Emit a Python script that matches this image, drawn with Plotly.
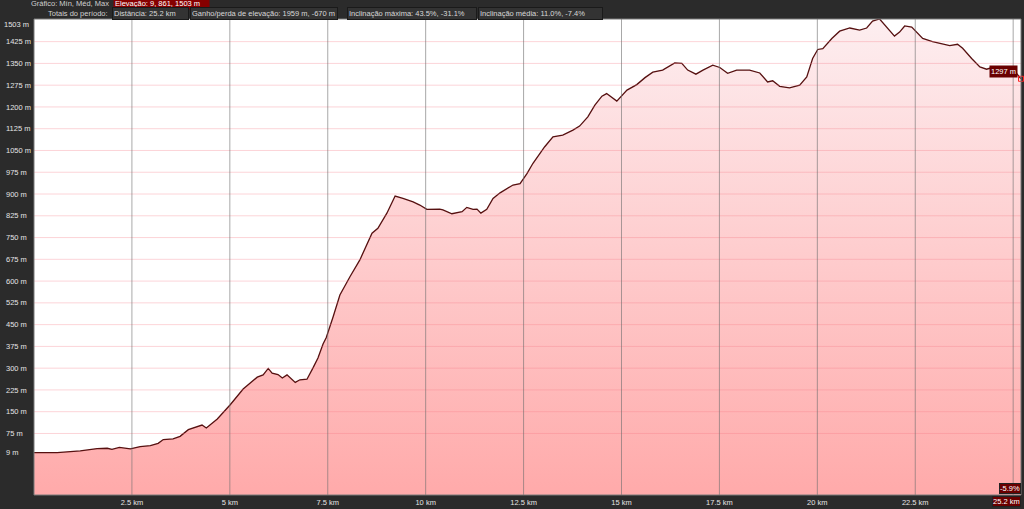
import plotly.graph_objects as go

# ---------------- data ----------------
dist_km = [0, 0.42, 0.59, 1.18, 1.61, 1.87, 1.99, 2.18, 2.38, 2.46, 2.71, 2.97, 3.17, 3.30,
           3.55, 3.73, 3.94, 4.17, 4.29, 4.40, 4.68, 5.01, 5.34, 5.70, 5.85, 5.98, 6.08, 6.23,
           6.34, 6.46, 6.67, 6.79, 6.97, 7.12, 7.25, 7.38, 7.46, 7.64, 7.81, 8.07, 8.32, 8.63,
           8.78, 9.01, 9.22, 9.42, 9.68, 9.85, 10.03, 10.36, 10.44, 10.67, 10.93, 11.05, 11.21,
           11.31, 11.41, 11.56, 11.72, 11.90, 12.23, 12.41, 12.59, 12.74, 13.04, 13.25, 13.50,
           13.76, 13.93, 14.14, 14.32, 14.50, 14.62, 14.88, 15.14, 15.39, 15.60, 15.80, 16.05,
           16.36, 16.54, 16.69, 16.90, 17.08, 17.33, 17.51, 17.71, 17.94, 18.27, 18.53, 18.73,
           18.86, 19.04, 19.29, 19.55, 19.73, 19.88, 20.01, 20.14, 20.37, 20.57, 20.83, 21.08,
           21.26, 21.41, 21.59, 21.77, 21.97, 22.10, 22.23, 22.41, 22.53, 22.69, 22.94, 23.20,
           23.38, 23.58, 23.71, 23.94, 24.15, 24.32, 24.45, 24.73, 24.91, 25.06, 25.2]
elev_m = [9, 9, 9, 15, 23, 24, 20, 27, 22, 22, 30, 33, 41, 54,
          56, 65, 88, 97, 104, 94, 125, 174, 228, 269, 277, 299, 283, 278,
          266, 277, 251, 260, 262, 300, 335, 383, 405, 478, 552, 616, 673, 765,
          782, 834, 893, 885, 873, 862, 847, 848, 845, 832, 839, 854, 847,
          848, 834, 847, 885, 904, 931, 936, 971, 1006, 1063, 1097, 1103,
          1120, 1134, 1166, 1206, 1237, 1246, 1220, 1258, 1277, 1301, 1320, 1327,
          1352, 1350, 1327, 1313, 1327, 1344, 1336, 1316, 1327, 1327, 1317, 1286,
          1290, 1271, 1266, 1275, 1303, 1367, 1398, 1401, 1436, 1461, 1472, 1465,
          1472, 1496, 1503, 1475, 1444, 1458, 1479, 1475, 1458, 1436, 1425, 1416,
          1411, 1416, 1402, 1367, 1338, 1330, 1335, 1338, 1336, 1320, 1297]

y_tick_vals = [9, 75, 150, 225, 300, 375, 450, 525, 600, 675, 750, 825, 900, 975,
               1050, 1125, 1200, 1275, 1350, 1425]
y_tick_text = [f"{v} m" for v in y_tick_vals]
y_top_val = 1503
y_top_text = "1503 m"
x_tick_vals = [2.5, 5, 7.5, 10, 12.5, 15, 17.5, 20, 22.5]
x_tick_text = ["2.5 km", "5 km", "7.5 km", "10 km", "12.5 km", "15 km", "17.5 km", "20 km", "22.5 km"]
x_grid_vals = [2.5, 5, 7.5, 10, 12.5, 15, 17.5, 20, 22.5, 25]
y_grid_vals = y_tick_vals[1:]

header_line1_label = "Gráfico: Mín, Méd, Max"
header_line1_box = "Elevação: 9, 861, 1503 m"
header_line2_label = "Totais do período:"
header_line2_boxes = ["Distância: 25.2 km",
                      "Ganho/perda de elevação: 1959 m, -670 m",
                      "Inclinação máxima: 43.5%, -31.1%",
                      "Inclinação média: 11.0%, -7.4%"]
end_elev_text = "1297 m"
end_grade_text = "-5.9%"
end_dist_text = "25.2 km"

# ---------------- layout helpers ----------------
W, H = 1024, 509
ML, MR, MT, MB = 0, 3, 19, 14
PW = W - ML - MR
PH = H - MT - MB
PLOT_LEFT_PX = 34
Y_MIN = -137
X_MAX = 25.2


def fx(px):
    return (px - ML) / PW


def fy(py):
    return (H - MB - py) / PH


FONT = "Liberation Sans"
TXT = "#e4e4e4"
FS = 7.5

fig = go.Figure()

# baseline for the fill
fig.add_trace(go.Scatter(x=dist_km, y=[Y_MIN] * len(dist_km), mode="lines",
                         line=dict(width=0, color="rgba(0,0,0,0)"),
                         hoverinfo="skip", showlegend=False))
fig.add_trace(go.Scatter(
    x=dist_km, y=elev_m, mode="lines",
    line=dict(color="#561010", width=1.3),
    fill="tonexty",
    fillgradient=dict(type="vertical",
                      colorscale=[[0, "#ffaaaa"], [1, "#fdeef0"]],
                      start=Y_MIN, stop=y_top_val),
    showlegend=False))
# end marker
fig.add_trace(go.Scatter(x=[dist_km[-1]], y=[elev_m[-1]], mode="markers",
                         marker=dict(symbol="square-open", size=5, color="#ff2020",
                                     line=dict(width=1, color="#ff2020")),
                         cliponaxis=False, showlegend=False))

shapes = []
for v in y_grid_vals:
    shapes.append(dict(type="line", xref="paper", x0=fx(PLOT_LEFT_PX), x1=1,
                       yref="y", y0=v, y1=v, layer="above",
                       line=dict(color="rgba(245,120,135,0.32)", width=1)))
for v in x_grid_vals:
    shapes.append(dict(type="line", xref="x", x0=v, x1=v, yref="paper", y0=0, y1=1,
                       layer="above", line=dict(color="rgba(110,110,110,0.6)", width=1)))
shapes.append(dict(type="rect", xref="paper", x0=fx(PLOT_LEFT_PX), x1=1, yref="paper",
                   y0=0, y1=1, layer="above", line=dict(color="#7a7a7a", width=1),
                   fillcolor="rgba(0,0,0,0)"))

ann = []
ann.append(dict(text=header_line1_label, xref="paper", yref="paper", x=fx(111), y=fy(4),
                xanchor="right", yanchor="middle", showarrow=False,
                font=dict(family=FONT, size=FS, color="#d0d0d0")))
ann.append(dict(text=header_line1_box, xref="paper", yref="paper", x=fx(113), y=fy(4),
                xanchor="left", yanchor="middle", showarrow=False, bgcolor="#860000",
                borderpad=1, width=93, align="left",
                font=dict(family=FONT, size=FS, color="#ffffff")))
ann.append(dict(text=header_line2_label, xref="paper", yref="paper", x=fx(110), y=fy(13.5),
                xanchor="right", yanchor="middle", showarrow=False,
                font=dict(family=FONT, size=FS, color="#d0d0d0")))
box_x = [112, 190, 347, 478]
box_w = [73, 144, 126, 121]
for t, bx, bw in zip(header_line2_boxes, box_x, box_w):
    ann.append(dict(text=t, xref="paper", yref="paper", x=fx(bx), y=fy(13.5),
                    xanchor="left", yanchor="middle", showarrow=False, bgcolor="#333333",
                    bordercolor="#1a1a1a", borderwidth=1, borderpad=1, width=bw,
                    align="left",
                    font=dict(family=FONT, size=FS, color="#d8d8d8")))
ann.append(dict(text=y_top_text, xref="paper", yref="y", x=fx(2), y=y_top_val,
                xanchor="left", yanchor="middle", yshift=-5, showarrow=False,
                font=dict(family=FONT, size=FS, color=TXT)))
ann.append(dict(text=end_elev_text, xref="x", yref="y", x=dist_km[-1], y=elev_m[-1],
                xanchor="right", yanchor="middle", xshift=-3, yshift=7, showarrow=False,
                bgcolor="#6a0000", borderpad=1,
                font=dict(family=FONT, size=FS, color="#ffffff")))
ann.append(dict(text=end_grade_text, xref="paper", yref="paper", x=1, y=0,
                xanchor="right", yanchor="bottom", yshift=1, showarrow=False,
                bgcolor="#6a0000", bordercolor="#222", borderwidth=1, borderpad=0,
                font=dict(family=FONT, size=FS, color="#ffffff")))
ann.append(dict(text=end_dist_text, xref="paper", yref="paper", x=1, y=0,
                xanchor="right", yanchor="top", yshift=-1, showarrow=False,
                bgcolor="#6a0000", bordercolor="#222", borderwidth=1, borderpad=0,
                font=dict(family=FONT, size=FS, color="#ffffff")))

fig.update_layout(
    width=W, height=H,
    margin=dict(l=ML, r=MR, t=MT, b=MB, pad=0),
    paper_bgcolor="#2b2b2b", plot_bgcolor="#ffffff",
    showlegend=False,
    hovermode=False,
    xaxis=dict(domain=[fx(PLOT_LEFT_PX), 1], range=[0, X_MAX], tickvals=x_tick_vals,
               ticktext=x_tick_text, showgrid=False, zeroline=False, ticks="",
               showline=False, tickfont=dict(family=FONT, size=FS, color=TXT),
               ticklabelstandoff=1, fixedrange=True),
    yaxis=dict(range=[Y_MIN, y_top_val], anchor="free", position=0, side="left",
               ticklabelposition="inside", tickvals=y_tick_vals, ticktext=y_tick_text,
               showgrid=False, zeroline=False, ticks="", showline=False,
               tickfont=dict(family=FONT, size=FS, color=TXT), ticklabelstandoff=2,
               fixedrange=True),
    shapes=shapes,
    annotations=ann,
)

fig.write_html("out.html", config={"displayModeBar": False},
               post_script="document.body.style.margin='0';"
                           "document.body.style.overflow='hidden';"
                           "document.body.style.background='#2b2b2b';")
